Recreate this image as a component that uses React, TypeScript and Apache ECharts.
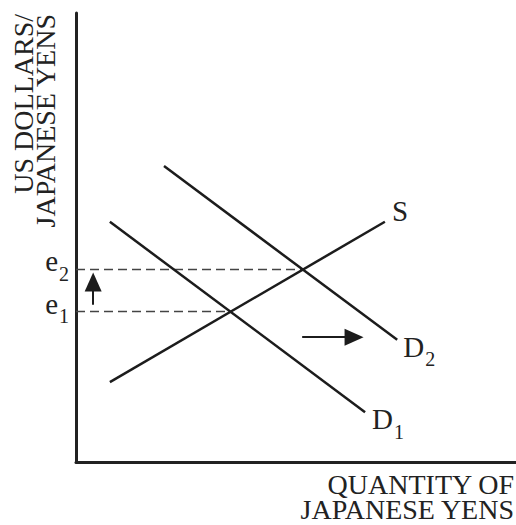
import React, { useEffect, useRef } from "react";
import * as echarts from "echarts";

// Data domain: x 0..100 (quantity), y 0..100 (exchange rate)
const SUPPLY: number[][] = [[7.7, 17.8], [70.2, 53.5]];
const DEMAND_1: number[][] = [[7.7, 53.5], [65.7, 11.1]];
const DEMAND_2: number[][] = [[20.0, 65.9], [73.0, 27.2]];
// equilibria (quantity, rate)
const EQ_1: number[] = [35.1, 33.5];
const EQ_2: number[] = [51.6, 42.9];
// shift arrows
const RATE_ARROW: number[][] = [[3.9, 35.0], [3.9, 40.1]];
const DEMAND_ARROW: number[][] = [[51.4, 27.8], [63.2, 27.8]];

const Y_TITLE = "US DOLLARS/\nJAPANESE YENS";
const X_TITLE = "QUANTITY OF\nJAPANESE YENS";

const FONT = "'Liberation Serif', 'Times New Roman', serif";
const INK = "#1c1c1c";
const TEXT = "#222";

const rich = {
  m: { fontFamily: FONT, fontSize: 29, color: TEXT },
  s: { fontFamily: FONT, fontSize: 20, color: TEXT, padding: [25, 0, 0, 1] },
};

export default function App() {
  const ref = useRef<HTMLDivElement>(null);
  useEffect(() => {
    if (!ref.current) return;
    const chart = echarts.init(ref.current, null, { renderer: "svg" });
    const curve = (name: string, data: number[][], label: string, offset: number[]) => ({
      name,
      type: "line",
      data: [
        data[0],
        {
          value: data[1],
          label: {
            show: true,
            position: "right",
            distance: 5,
            offset,
            formatter: label,
            rich,
          },
        },
      ],
      symbol: "circle",
      symbolSize: 0,
      showSymbol: true,
      itemStyle: { color: "rgba(0,0,0,0)" },
      lineStyle: { color: INK, width: 2.5 },
      z: 3,
    });
    const guide = (name: string, eq: number[], label: string) => ({
      name,
      type: "line",
      data: [
        {
          value: [0, eq[1]],
          label: {
            show: true,
            position: "left",
            distance: 7,
            offset: [0, -8],
            formatter: label,
            rich,
          },
        },
        [eq[0], eq[1]],
      ],
      symbol: "circle",
      symbolSize: 0,
      showSymbol: true,
      itemStyle: { color: "rgba(0,0,0,0)" },
      lineStyle: { color: "#444", width: 1.5, type: [9, 5] },
      z: 2,
    });
    chart.setOption({
      animation: false,
      backgroundColor: "#ffffff",
      grid: { left: 76, right: 0, top: 13, bottom: 63 },
      xAxis: {
        type: "value",
        min: 0,
        max: 100,
        axisLine: { show: true, lineStyle: { color: "#222", width: 3 } },
        axisTick: { show: false },
        axisLabel: { show: false },
        splitLine: { show: false },
      },
      yAxis: {
        type: "value",
        min: 0,
        max: 100,
        axisLine: { show: true, lineStyle: { color: "#222", width: 3 } },
        axisTick: { show: false },
        axisLabel: { show: false },
        splitLine: { show: false },
      },
      series: [
        guide("e1", EQ_1, "{m|e}{s|1}"),
        guide("e2", EQ_2, "{m|e}{s|2}"),
        curve("S", SUPPLY, "{m|S}", [2, -11]),
        curve("D1", DEMAND_1, "{m|D}{s|1}", [2, 7]),
        curve("D2", DEMAND_2, "{m|D}{s|2}", [1, 7]),
        {
          name: "shifts",
          type: "line",
          data: [],
          markLine: {
            silent: true,
            symbol: ["none", "triangle"],
            symbolSize: [17, 19],
            label: { show: false },
            lineStyle: { color: INK, width: 2, type: "solid" },
            data: [
              [{ coord: RATE_ARROW[0] }, { coord: RATE_ARROW[1] }],
              [{ coord: DEMAND_ARROW[0] }, { coord: DEMAND_ARROW[1] }],
            ],
          },
        },
      ],
      graphic: [
        {
          type: "text",
          x: 34,
          y: 14,
          rotation: Math.PI / 2,
          style: {
            text: Y_TITLE,
            fontFamily: FONT,
            fontSize: 28,
            lineHeight: 22,
            fill: TEXT,
            align: "right",
            verticalAlign: "middle",
          },
        },
        {
          type: "text",
          x: 514,
          y: 497,
          style: {
            text: X_TITLE,
            fontFamily: FONT,
            fontSize: 28,
            lineHeight: 25,
            fill: TEXT,
            align: "right",
            verticalAlign: "middle",
          },
        },
      ],
    });
    return () => chart.dispose();
  }, []);
  return (
    <div
      ref={ref}
      style={{ position: "absolute", left: 0, top: 0, width: 516, height: 525, background: "#fff" }}
    />
  );
}
